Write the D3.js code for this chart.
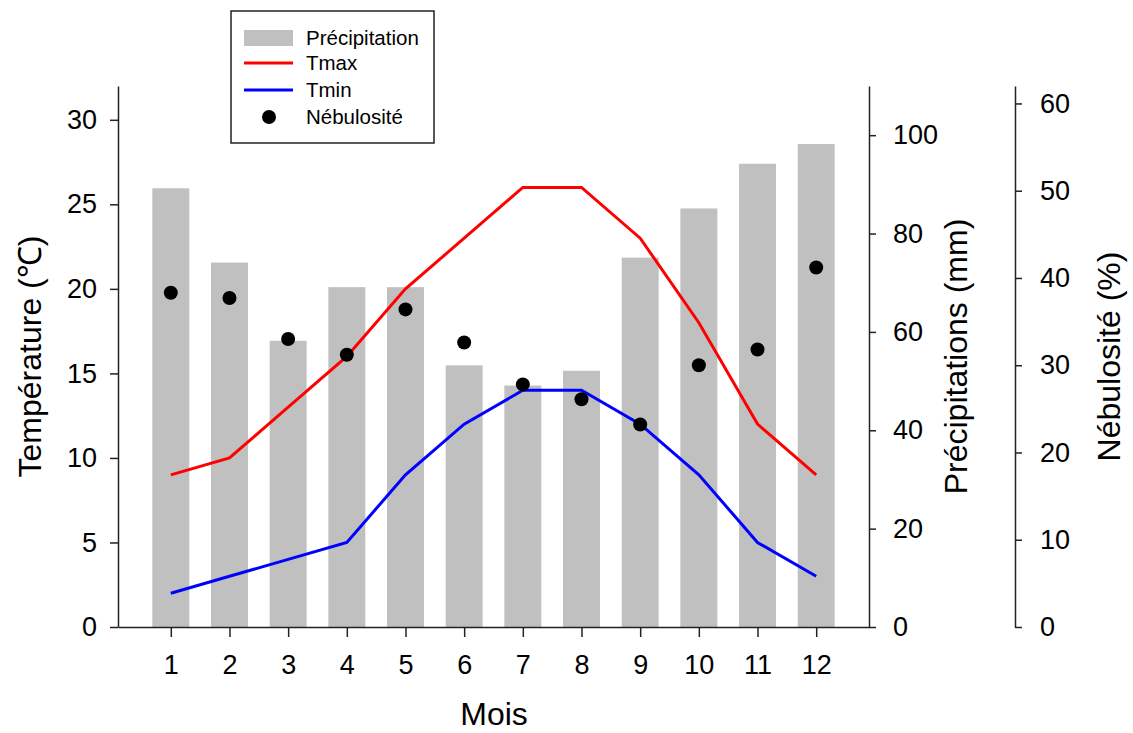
<!DOCTYPE html>
<meta charset="utf-8">
<style>
body { margin: 0; background: #fff; }
svg text { font-family: "Liberation Sans", Arial, sans-serif; fill: #000; }
.axis path, .axis line { stroke: #222; stroke-width: 1.5px; }
.axis text { font-size: 27px; }
.title { font-size: 32px; }
.legend text { font-size: 20.5px; }
</style>
<body>
<script src="https://d3js.org/d3.v7.min.js"></script>
<script>

var months = [1, 2, 3, 4, 5, 6, 7, 8, 9, 10, 11, 12];
var precip = [89.2, 74.1, 58.2, 69.1, 69.1, 53.2, 49.1, 52.1, 75.1, 85.1, 94.2, 98.2];
var tmax = [9, 10, 13, 16, 20, 23, 26, 26, 23, 18, 12, 9];
var tmin = [2, 3, 4, 5, 9, 12, 14, 14, 12, 9, 5, 3];
var nebul = [38.3, 37.7, 33.0, 31.2, 36.4, 32.6, 27.8, 26.1, 23.2, 30.0, 31.8, 41.2];

var tempTicks = [0, 5, 10, 15, 20, 25, 30];
var precipTicks = [0, 20, 40, 60, 80, 100];
var nebulTicks = [0, 10, 20, 30, 40, 50, 60];

var plotL = 118, plotR = 869, plotT = 86, plotB = 627, axis3X = 1015;

var svg = d3.select("body").append("svg")
    .attr("width", 1133)
    .attr("height", 733);

var x = d3.scaleLinear().domain([0.1, 12.9]).range([plotL, plotR]);
var yT = d3.scaleLinear().domain([0, 32]).range([plotB, plotT]);
var yP = d3.scaleLinear().domain([0, 110]).range([plotB, plotT]);
var yN = d3.scaleLinear().domain([0, 62]).range([plotB, plotT]);

var barW = 0.63 * (x(2) - x(1));

// bars - precipitation
svg.append("g").selectAll("rect")
    .data(months)
  .enter().append("rect")
    .attr("x", function(d) { return x(d) - barW / 2; })
    .attr("width", barW)
    .attr("y", function(d, i) { return yP(precip[i]); })
    .attr("height", function(d, i) { return yP(0) - yP(precip[i]); })
    .attr("fill", "#c0c0c0");

var line = function(vals) {
  return d3.line()
    .x(function(d) { return x(d); })
    .y(function(d, i) { return yT(vals[i]); })(months);
};

svg.append("path").attr("d", line(tmax))
    .attr("fill", "none").attr("stroke", "#ff0000").attr("stroke-width", 3);
svg.append("path").attr("d", line(tmin))
    .attr("fill", "none").attr("stroke", "#0000ff").attr("stroke-width", 3);

svg.append("g").selectAll("circle")
    .data(months)
  .enter().append("circle")
    .attr("cx", function(d) { return x(d); })
    .attr("cy", function(d, i) { return yN(nebul[i]); })
    .attr("r", 7)
    .attr("fill", "#000");

// axes
svg.append("g").attr("class", "axis")
    .attr("transform", "translate(0," + plotB + ")")
    .call(d3.axisBottom(x).tickValues(months).tickSize(10).tickSizeOuter(0).tickPadding(18));

svg.append("g").attr("class", "axis")
    .attr("transform", "translate(" + plotL + ",0)")
    .call(d3.axisLeft(yT).tickValues(tempTicks).tickSize(8).tickSizeOuter(0).tickPadding(13));

svg.append("g").attr("class", "axis")
    .attr("transform", "translate(" + plotR + ",0)")
    .call(d3.axisRight(yP).tickValues(precipTicks).tickSize(7).tickSizeOuter(0).tickPadding(17));

svg.append("g").attr("class", "axis")
    .attr("transform", "translate(" + axis3X + ",0)")
    .call(d3.axisRight(yN).tickValues(nebulTicks).tickSize(7).tickSizeOuter(0).tickPadding(18));

// titles
var mid = (plotT + plotB) / 2;
svg.append("text").attr("class", "title")
    .attr("x", 494).attr("y", 725)
    .attr("text-anchor", "middle").text("Mois");
svg.append("text").attr("class", "title")
    .attr("transform", "translate(41," + mid + ") rotate(-90)")
    .attr("text-anchor", "middle").text("Température (℃)");
svg.append("text").attr("class", "title")
    .attr("transform", "translate(967," + mid + ") rotate(-90)")
    .attr("text-anchor", "middle").text("Précipitations (mm)");
svg.append("text").attr("class", "title")
    .attr("transform", "translate(1120," + mid + ") rotate(-90)")
    .attr("text-anchor", "middle").text("Nébulosité (%)");

// legend
var lg = svg.append("g").attr("class", "legend");
lg.append("rect")
    .attr("x", 231).attr("y", 11).attr("width", 203).attr("height", 132)
    .attr("fill", "#fff").attr("stroke", "#222").attr("stroke-width", 1.5);
var ly = [38, 63, 90, 117];
lg.append("rect").attr("x", 244).attr("y", ly[0] - 8).attr("width", 49).attr("height", 16)
    .attr("fill", "#c0c0c0");
lg.append("line").attr("x1", 244).attr("x2", 293).attr("y1", ly[1]).attr("y2", ly[1])
    .attr("stroke", "#ff0000").attr("stroke-width", 3);
lg.append("line").attr("x1", 244).attr("x2", 293).attr("y1", ly[2]).attr("y2", ly[2])
    .attr("stroke", "#0000ff").attr("stroke-width", 3);
lg.append("circle").attr("cx", 269).attr("cy", ly[3]).attr("r", 7).attr("fill", "#000");
var names = ["Précipitation", "Tmax", "Tmin", "Nébulosité"];
names.forEach(function(n, i) {
  lg.append("text").attr("x", 306).attr("y", ly[i] + 7).text(n);
});

</script>
</body>
